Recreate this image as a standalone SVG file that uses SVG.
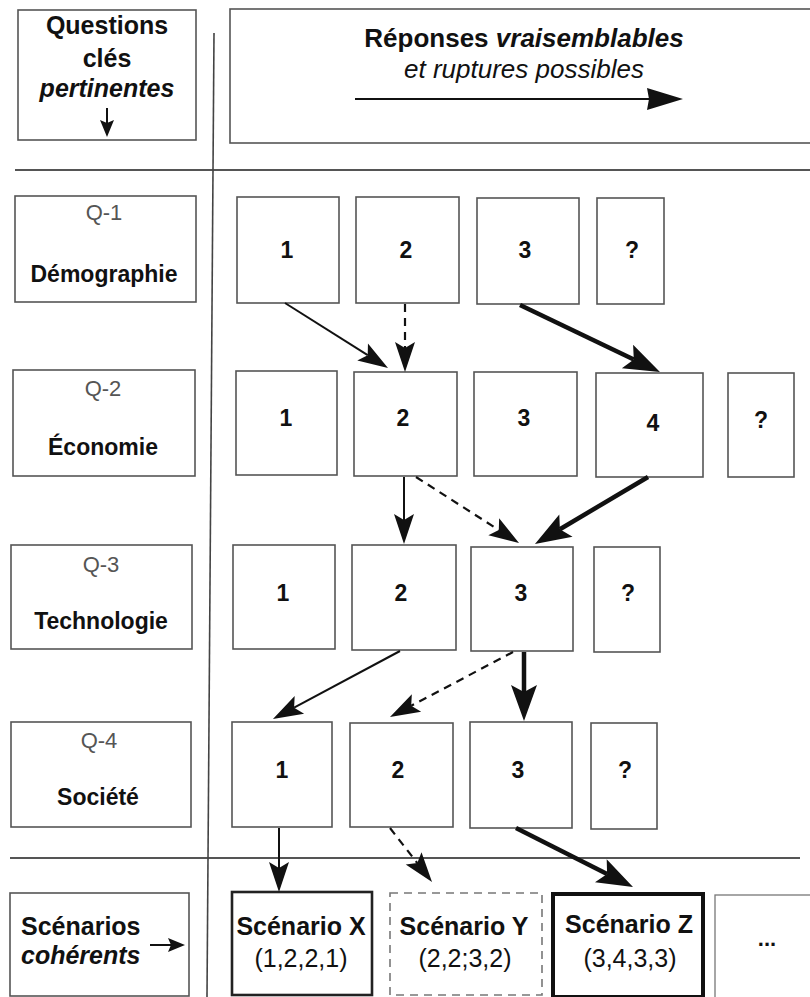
<svg xmlns="http://www.w3.org/2000/svg" width="810" height="997" viewBox="0 0 810 997">
<style>
.bx{fill:#fff;stroke:#555;stroke-width:1.6}
.t{font-family:"Liberation Sans",Arial,sans-serif;fill:#111;text-anchor:middle}
.ls{text-anchor:start}
.b{font-weight:bold}
.num{font-weight:bold;font-size:23px}
.q{font-size:22px;fill:#555}
.lbl{font-weight:bold;font-size:23px}
.sep{stroke:#555;stroke-width:2;fill:none}
.a{stroke:#111;fill:none;stroke-width:2}
.ak{stroke:#111;fill:none;stroke-width:4.5}
.ad{stroke:#111;fill:none;stroke-width:2.2;stroke-dasharray:8 6}
</style>
<defs>
<marker id="h" markerUnits="userSpaceOnUse" markerWidth="32" markerHeight="22" refX="6" refY="10" orient="auto" overflow="visible"><path d="M0,0 L30,10 L0,20 L6,10 Z" fill="#111"/></marker>
<marker id="hb" markerUnits="userSpaceOnUse" markerWidth="38" markerHeight="28" refX="7" refY="13" orient="auto" overflow="visible"><path d="M0,0 L36,13 L0,26 L7,13 Z" fill="#111"/></marker>
<marker id="hh" markerUnits="userSpaceOnUse" markerWidth="38" markerHeight="24" refX="2" refY="11" orient="auto" overflow="visible"><path d="M0,0 L36,11 L0,22 L2,11 Z" fill="#111"/></marker>
<marker id="hs" markerUnits="userSpaceOnUse" markerWidth="20" markerHeight="16" refX="3" refY="7" orient="auto" overflow="visible"><path d="M0,0 L17,7 L0,14 L3,7 Z" fill="#111"/></marker>
</defs>
<rect width="810" height="997" fill="#fff"/>

<g id="frame">
<line class="sep" x1="15" y1="170" x2="810" y2="170"/>
<line class="sep" x1="10" y1="858" x2="800" y2="858"/>
<line x1="214" y1="33" x2="207" y2="997" stroke="#444" stroke-width="1.6"/>
</g>

<g id="head-questions">
<rect class="bx" x="18" y="10" width="178" height="130"/>
<text class="t b" x="107" y="34" font-size="25">Questions</text>
<text class="t b" x="107" y="67" font-size="25">clés</text>
<text class="t b" x="107" y="97" font-size="25" font-style="italic">pertinentes</text>
<line class="a" x1="107" y1="108" x2="107" y2="123" stroke-width="2" marker-end="url(#hs)"/>
</g>

<g id="head-reponses">
<rect class="bx" x="230" y="9" width="590" height="134"/>
<text class="t b" x="524" y="47" font-size="26">Réponses <tspan font-style="italic">vraisemblables</tspan></text>
<text class="t" x="524" y="78" font-size="26" font-style="italic" fill="#444">et ruptures possibles</text>
<line class="a" x1="355" y1="99" x2="649" y2="99" stroke-width="3.2" marker-end="url(#hh)"/>
</g>

<g id="q1">
<rect class="bx" x="15" y="196" width="181" height="106"/>
<text class="t q" x="104" y="220">Q-1</text>
<text class="t lbl" x="104" y="282">Démographie</text>
</g>
<g id="q1-1"><rect class="bx" x="237" y="197" width="102" height="106"/><text class="t num" x="287" y="258">1</text></g>
<g id="q1-2"><rect class="bx" x="356" y="197" width="103" height="106"/><text class="t num" x="406" y="258">2</text></g>
<g id="q1-3"><rect class="bx" x="477" y="198" width="102" height="106"/><text class="t num" x="525" y="258">3</text></g>
<g id="q1-x"><rect class="bx" x="597" y="198" width="67" height="106"/><text class="t num" x="632" y="258">?</text></g>

<g id="q2">
<rect class="bx" x="13" y="370" width="182" height="106"/>
<text class="t q" x="103" y="396">Q-2</text>
<text class="t lbl" x="103" y="455">Économie</text>
</g>
<g id="q2-1"><rect class="bx" x="236" y="371" width="101" height="104"/><text class="t num" x="286" y="426">1</text></g>
<g id="q2-2"><rect class="bx" x="354" y="372" width="103" height="104"/><text class="t num" x="403" y="426">2</text></g>
<g id="q2-3"><rect class="bx" x="474" y="372" width="103" height="104"/><text class="t num" x="524" y="426">3</text></g>
<g id="q2-4"><rect class="bx" x="596" y="373" width="107" height="104"/><text class="t num" x="653" y="431">4</text></g>
<g id="q2-x"><rect class="bx" x="728" y="373" width="66" height="104"/><text class="t num" x="761" y="428">?</text></g>

<g id="q3">
<rect class="bx" x="11" y="545" width="181" height="104"/>
<text class="t q" x="101" y="572">Q-3</text>
<text class="t lbl" x="101" y="629">Technologie</text>
</g>
<g id="q3-1"><rect class="bx" x="233" y="545" width="102" height="104"/><text class="t num" x="283" y="601">1</text></g>
<g id="q3-2"><rect class="bx" x="352" y="545" width="104" height="105"/><text class="t num" x="401" y="601">2</text></g>
<g id="q3-3"><rect class="bx" x="471" y="547" width="102" height="104"/><text class="t num" x="521" y="601">3</text></g>
<g id="q3-x"><rect class="bx" x="594" y="547" width="66" height="105"/><text class="t num" x="628" y="601">?</text></g>

<g id="q4">
<rect class="bx" x="11" y="722" width="180" height="105"/>
<text class="t q" x="99" y="748">Q-4</text>
<text class="t lbl" x="98" y="805">Société</text>
</g>
<g id="q4-1"><rect class="bx" x="232" y="722" width="100" height="105"/><text class="t num" x="282" y="778">1</text></g>
<g id="q4-2"><rect class="bx" x="350" y="723" width="103" height="104"/><text class="t num" x="398" y="778">2</text></g>
<g id="q4-3"><rect class="bx" x="470" y="722" width="102" height="106"/><text class="t num" x="518" y="778">3</text></g>
<g id="q4-x"><rect class="bx" x="591" y="723" width="66" height="106"/><text class="t num" x="625" y="778">?</text></g>

<g id="scenarios">
<rect class="bx" x="10" y="893" width="179" height="103"/>
<text class="t b ls" x="21" y="935" font-size="25">Scénarios</text>
<text class="t b ls" x="21" y="964" font-size="25" font-style="italic">cohérents</text>
<line class="a" x1="150" y1="945" x2="171" y2="945" stroke-width="2.5" marker-end="url(#hs)"/>
</g>
<g id="scen-x">
<rect x="232" y="892" width="140" height="103" fill="#fff" stroke="#222" stroke-width="2.6"/>
<text class="t b" x="301" y="935" font-size="25">Scénario X</text>
<text class="t" x="301" y="967" font-size="25" fill="#333">(1,2,2,1)</text>
</g>
<g id="scen-y">
<rect x="390" y="893" width="152" height="102" fill="#fff" stroke="#777" stroke-width="1.6" stroke-dasharray="8 6"/>
<text class="t b" x="464" y="935" font-size="25">Scénario Y</text>
<text class="t" x="465" y="967" font-size="25" fill="#333">(2,2;3,2)</text>
</g>
<g id="scen-z">
<rect x="553" y="894" width="150" height="103" fill="#fff" stroke="#111" stroke-width="4"/>
<text class="t b" x="629" y="933" font-size="25">Scénario Z</text>
<text class="t" x="630" y="967" font-size="25" fill="#333">(3,4,3,3)</text>
</g>
<g id="scen-more">
<rect x="715" y="895" width="105" height="103" fill="#fff" stroke="#777" stroke-width="1.3"/>
<text class="t b" x="767" y="946" font-size="22">...</text>
</g>

<g id="connectors">
<line class="a" x1="285" y1="303" x2="367.7" y2="355.2" marker-end="url(#h)"/>
<line class="ad" x1="405" y1="304" x2="405" y2="348" marker-end="url(#h)"/>
<line class="ak" x1="520" y1="305" x2="633.8" y2="359.5" marker-end="url(#hb)"/>
<line class="a" x1="404" y1="477" x2="404" y2="520" marker-end="url(#h)"/>
<line class="ad" x1="416" y1="477" x2="498.8" y2="530" marker-end="url(#h)"/>
<line class="ak" x1="648" y1="477" x2="559.9" y2="529.2" marker-end="url(#hb)"/>
<line class="a" x1="400" y1="651" x2="294.1" y2="707.7" marker-end="url(#h)"/>
<line class="ad" x1="513" y1="652" x2="411.2" y2="705.8" marker-end="url(#h)"/>
<line class="ak" x1="524" y1="652" x2="524" y2="692" marker-end="url(#hb)"/>
<line class="a" x1="279" y1="828" x2="279" y2="868" marker-end="url(#h)"/>
<line class="ad" x1="390" y1="828" x2="417.3" y2="863.1" marker-end="url(#h)"/>
<line class="ak" x1="516" y1="828" x2="607.1" y2="873.9" marker-end="url(#hb)"/>
</g>
</svg>
